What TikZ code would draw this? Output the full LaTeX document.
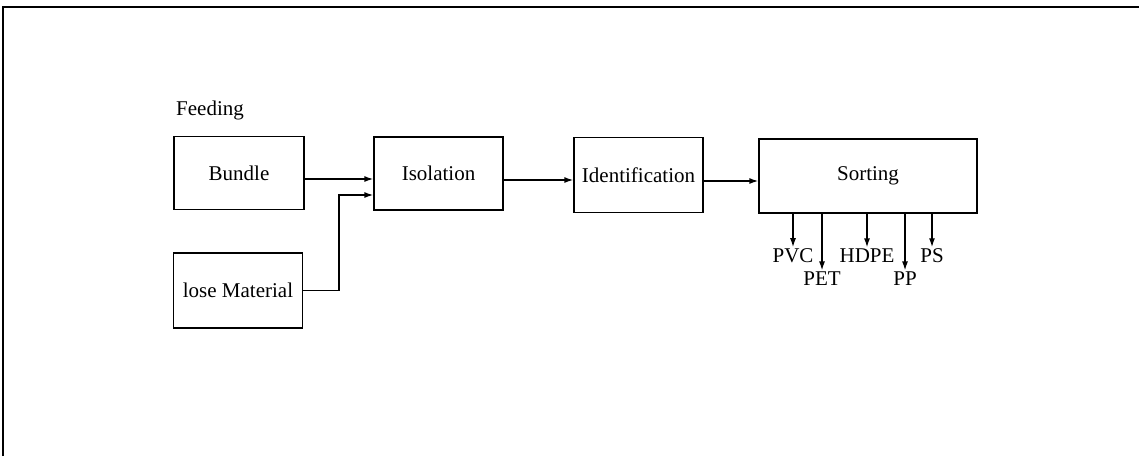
\documentclass[tikz,border=0pt]{standalone}
\usepackage{fontspec}
\setmainfont{Liberation Serif}
\usetikzlibrary{arrows.meta}
\begin{document}
\begin{tikzpicture}[x=1pt,y=-1pt,
  every node/.style={font=\fontsize{21}{25}\selectfont},
  stage/.style={draw,line width=1.3pt,minimum width=#1,inner sep=0pt},
  arr/.style={line width=1.4pt,-{Latex[length=9pt,width=6pt]}},
  fraction/.style={inner sep=1.5pt}]
  \useasboundingbox (0,0) rectangle (1139,456);
  % page frame
  \draw[line width=1.5pt] (3,456) -- (3,7) -- (1139,7);

  % process stages
  \node[stage=130pt,minimum height=73pt] (bundle) at (239,173) {Bundle};
  \node[stage=129pt,minimum height=75pt] (lose) at (238,290.5) {lose Material};
  \node[stage=129pt,minimum height=73pt] (iso) at (438.5,173.5) {Isolation};
  \node[stage=129pt,minimum height=75pt] (ident) at (638.5,175) {Identification};
  \node[stage=218pt,minimum height=74pt] (sort) at (868,176) {Sorting};
  \node[anchor=west,inner sep=0pt] (feed) at (176,110) {Feeding};

  % material flow
  \draw[arr] ([yshift=-6pt]bundle.east) -- ([yshift=-5.5pt]iso.west);
  \draw[arr] (lose.east) -- ++(36,0) |- ([yshift=-21.5pt]iso.west);
  \draw[arr] ([yshift=-6.5pt]iso.east) -- ([yshift=-5pt]ident.west);
  \draw[arr] ([yshift=-6pt]ident.east) -- ([yshift=-5pt]sort.west);

  % sorted fractions
  \node[fraction] (pvc) at (793,256) {PVC};
  \node[fraction] (hdpe) at (867,256) {HDPE};
  \node[fraction] (ps) at (932,256) {PS};
  \node[fraction] (pet) at (822,279) {PET};
  \node[fraction] (pp) at (905,279) {PP};
  \foreach \f in {pvc,pet,hdpe,pp,ps}
    \draw[arr] (\f.north |- sort.south) -- (\f.north);
\end{tikzpicture}
\end{document}
